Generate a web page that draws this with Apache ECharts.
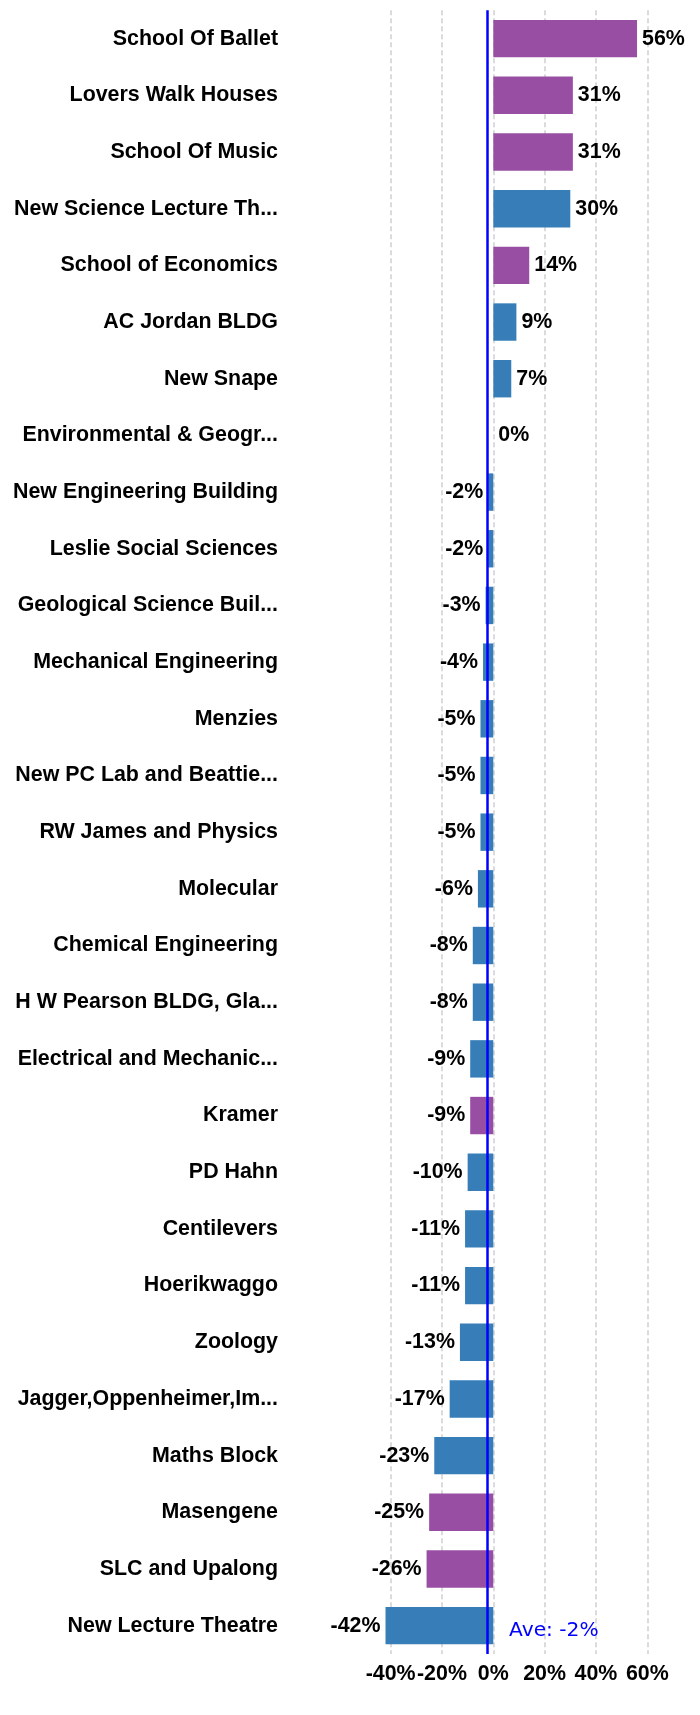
<!DOCTYPE html>
<html>
<head>
<meta charset="utf-8">
<script src="https://cdn.jsdelivr.net/npm/echarts@6/dist/echarts.min.js"></script>
<style>
html,body{margin:0;padding:0;background:#fff;}
#chart{width:700px;height:1715px;}
</style>
</head>
<body>
<div id="chart"></div>
<script>
const categories = [
  "School Of Ballet", "Lovers Walk Houses", "School Of Music", "New Science Lecture Th...",
  "School of Economics", "AC Jordan BLDG", "New Snape", "Environmental & Geogr...",
  "New Engineering Building", "Leslie Social Sciences", "Geological Science Buil...",
  "Mechanical Engineering", "Menzies", "New PC Lab and Beattie...", "RW James and Physics",
  "Molecular", "Chemical Engineering", "H W Pearson BLDG, Gla...", "Electrical and Mechanic...",
  "Kramer", "PD Hahn", "Centilevers", "Hoerikwaggo", "Zoology", "Jagger,Oppenheimer,Im...",
  "Maths Block", "Masengene", "SLC and Upalong", "New Lecture Theatre"
];
const values = [56, 31, 31, 30, 14, 9, 7, 0, -2, -2, -3, -4, -5, -5, -5, -6, -8, -8, -9, -9,
  -10, -11, -11, -13, -17, -23, -25, -26, -42];
// group: 1 = purple, 0 = blue
const groups = [1, 1, 1, 0, 1, 0, 0, 0, 0, 0, 0, 0, 0, 0, 0, 0, 0, 0, 0, 1, 0, 0, 0, 0, 0, 0, 1, 1, 0];
const groupColors = ["#377eb8", "#984ea3"];
const averageValue = -2.5;
const averageLabel = "Ave: -2%";
const xMin = -42, xMax = 60;

const chart = echarts.init(document.getElementById('chart'), null, {renderer: 'canvas'});
const FONT = '"Liberation Sans", Arial, sans-serif';
const FS = 21.4;

const data = values.map((v, i) => ({
  value: v,
  itemStyle: {color: groupColors[groups[i]]},
  label: {position: v < 0 ? 'left' : 'right'}
}));

chart.setOption({
  animation: false,
  backgroundColor: '#fff',
  grid: {left: 385.5, right: 52.7, top: 10.3, bottom: 61, containLabel: false},
  xAxis: {
    type: 'value',
    min: xMin, max: xMax,
    axisLine: {show: false},
    axisTick: {show: false},
    splitLine: {show: true, showMinLine: false, lineStyle: {color: '#cfcfcf', width: 1.5, type: [5, 3]}},
    axisLabel: {
      showMinLabel: false,
      margin: 10,
      color: '#000', fontWeight: 'bold', fontSize: FS, fontFamily: FONT,
      formatter: v => v + '%'
    }
  },
  yAxis: {
    type: 'category',
    inverse: true,
    data: categories,
    axisLine: {show: false},
    axisTick: {show: false},
    splitLine: {show: false},
    axisLabel: {
      margin: 107.5,
      color: '#000', fontWeight: 'bold', fontSize: FS, fontFamily: FONT
    }
  },
  series: [{
    type: 'bar',
    data: data,
    barCategoryGap: '34%',
    label: {
      show: true,
      distance: 5,
      color: '#000', fontWeight: 'bold', fontSize: FS, fontFamily: FONT,
      formatter: p => Math.round(p.value) + '%'
    },
    markLine: {
      silent: true,
      symbol: 'none',
      lineStyle: {color: '#0000ff', width: 2.5, type: 'solid'},
      label: {
        show: true,
        position: 'end',
        offset: [67, -38],
        formatter: averageLabel,
        color: '#0000ff',
        fontSize: 20.2,
        fontFamily: '"DejaVu Sans", Verdana, sans-serif'
      },
      data: [{xAxis: averageValue}]
    }
  }]
});
</script>
</body>
</html>
